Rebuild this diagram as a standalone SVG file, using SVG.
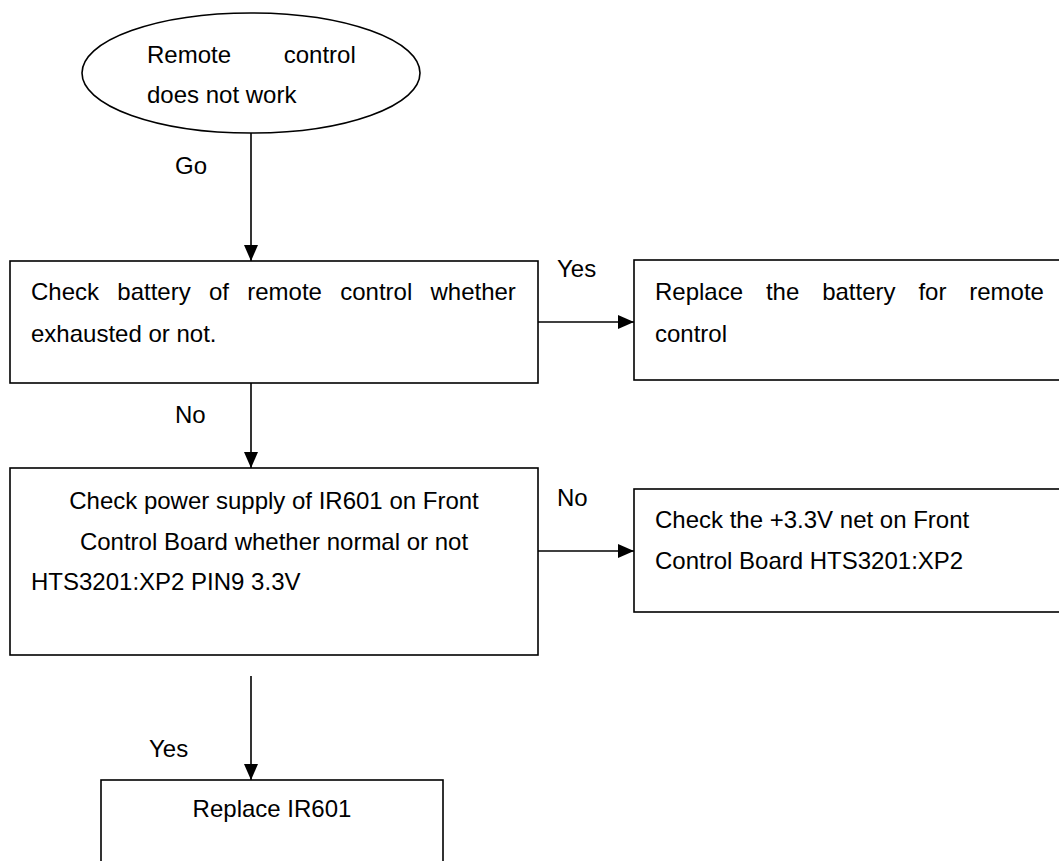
<svg xmlns="http://www.w3.org/2000/svg" width="1059" height="861" viewBox="0 0 1059 861">
<defs>
<style>
.box{fill:#fff;stroke:#000;stroke-width:1.6}
.t{font-family:"Liberation Sans",Arial,sans-serif;font-size:24px;fill:#000}
.c{stroke:#000;stroke-width:1.6;fill:none;marker-end:url(#ah)}
</style>
<marker id="ah" markerUnits="userSpaceOnUse" markerWidth="17" markerHeight="16" refX="16" refY="8" orient="auto">
<path d="M0,1 L16,8 L0,15 Z" fill="#000"/>
</marker>
</defs>
<rect width="1059" height="861" fill="#fff"/>
<g id="connectors">
<line class="c" x1="251" y1="133" x2="251" y2="261"/>
<line class="c" x1="538" y1="322" x2="634" y2="322"/>
<line class="c" x1="251" y1="383" x2="251" y2="468"/>
<line class="c" x1="538" y1="551" x2="634" y2="551"/>
<line class="c" x1="251" y1="676" x2="251" y2="780"/>
<text class="t" x="175" y="174">Go</text>
<text class="t" x="557" y="277">Yes</text>
<text class="t" x="175" y="423">No</text>
<text class="t" x="557" y="506">No</text>
<text class="t" x="149" y="757">Yes</text>
</g>
<g id="start">
<ellipse class="box" cx="251" cy="73" rx="169" ry="60"/>
<text class="t" x="147" y="63" word-spacing="46">Remote control</text>
<text class="t" x="147" y="103">does not work</text>
</g>
<g id="check-battery">
<rect class="box" x="10" y="261" width="528" height="122"/>
<text class="t" x="31" y="300" word-spacing="11.6">Check battery of remote control whether</text>
<text class="t" x="31" y="342">exhausted or not.</text>
</g>
<g id="replace-battery">
<rect class="box" x="634" y="260" width="440" height="120"/>
<text class="t" x="655" y="300" word-spacing="16.2">Replace the battery for remote</text>
<text class="t" x="655" y="342">control</text>
</g>
<g id="check-power">
<rect class="box" x="10" y="468" width="528" height="187"/>
<text class="t" x="274" y="509" text-anchor="middle">Check power supply of IR601 on Front</text>
<text class="t" x="274" y="550" text-anchor="middle">Control Board whether normal or not</text>
<text class="t" x="31" y="590">HTS3201:XP2 PIN9 3.3V</text>
</g>
<g id="check-net">
<rect class="box" x="634" y="489" width="440" height="123"/>
<text class="t" x="655" y="528">Check the +3.3V net on Front</text>
<text class="t" x="655" y="569">Control Board HTS3201:XP2</text>
</g>
<g id="replace-ir">
<rect class="box" x="101" y="780" width="342" height="100"/>
<text class="t" x="272" y="817" text-anchor="middle">Replace IR601</text>
</g>
</svg>
